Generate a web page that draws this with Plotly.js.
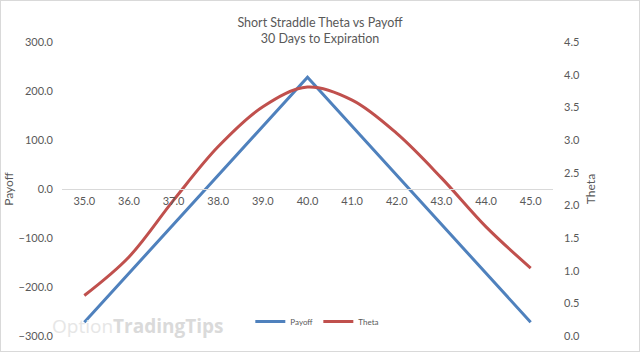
<!DOCTYPE html>
<html>
<head>
<meta charset="utf-8">
<script src="https://cdn.plot.ly/plotly-3.0.1.min.js"></script>
<style>
  html, body { margin: 0; padding: 0; background: #fff; }
  #chart { width: 640px; height: 352px; box-sizing: border-box; border: 1px solid #d9d9d9; }
</style>
</head>
<body>
<div id="chart"></div>
<script>
const strikes = [35, 36, 37, 38, 39, 40, 41, 42, 43, 44, 45];
const strikeLabels = ['35.0','36.0','37.0','38.0','39.0','40.0','41.0','42.0','43.0','44.0','45.0'];
const payoff = [-272, -172, -72, 28, 128, 228, 128, 28, -72, -172, -272];
const theta = [0.62, 1.21, 2.08, 2.90, 3.51, 3.81, 3.61, 3.10, 2.42, 1.67, 1.04];

const txt = '#595959';
const fontFam = 'Lato, "Open Sans", sans-serif';

const traces = [
  { x: strikes, y: payoff, name: 'Payoff', type: 'scatter', mode: 'lines',
    line: { color: '#4F81BD', width: 3 }, xaxis: 'x', yaxis: 'y' },
  { x: strikes, y: theta, name: 'Theta', type: 'scatter', mode: 'lines',
    line: { color: '#C0504D', width: 3, shape: 'spline', smoothing: 1 }, xaxis: 'x', yaxis: 'y2' }
];

const layout = {
  width: 638, height: 350,
  margin: { l: 61, r: 86, t: 41, b: 15 },
  paper_bgcolor: '#fff', plot_bgcolor: 'rgba(0,0,0,0)',
  font: { family: fontFam, color: txt, size: 11 },
  showlegend: true,
  legend: { orientation: 'h', x: 0.52, xanchor: 'center', y: 0.0, yanchor: 'bottom',
    font: { size: 8, color: txt }, bgcolor: 'rgba(0,0,0,0)', itemwidth: 30 },
  title: { text: 'Short Straddle Theta vs Payoff<br>30 Days to Expiration',
    x: 0.5, xref: 'container', xanchor: 'center', y: 1 - 26/350, yref: 'container', yanchor: 'middle',
    font: { family: fontFam, size: 12.5, color: txt } },
  xaxis: {
    range: [34.5, 45.5], tickvals: strikes, ticktext: strikeLabels,
    anchor: 'free', position: 147.5/294, side: 'bottom', automargin: false,
    showline: true, linecolor: '#d9d9d9', linewidth: 1, showgrid: false, zeroline: false,
    ticks: '', ticklabelstandoff: 2, tickfont: { size: 11, color: txt }, fixedrange: true
  },
  yaxis: {
    range: [-300, 300], tickvals: [-300,-200,-100,0,100,200,300], tickformat: '.1f',
    showgrid: false, zeroline: false, showline: false, ticks: '',
    ticklabelstandoff: 8, tickfont: { size: 11, color: txt },
    title: { text: 'Payoff', standoff: 4, font: { size: 12, color: txt } }, automargin: false
  },
  yaxis2: {
    overlaying: 'y', side: 'right', range: [0, 4.5], dtick: 0.5, tick0: 0, tickformat: '.1f',
    showgrid: false, zeroline: false, showline: false, ticks: '',
    ticklabelstandoff: 10, tickfont: { size: 11, color: txt },
    title: { text: 'Theta', standoff: 7, font: { size: 12, color: txt } }, automargin: false
  },
  annotations: [
    { xref: 'paper', yref: 'paper', x: -0.025, y: 0.035, xanchor: 'left', yanchor: 'middle', showarrow: false,
      text: '<span style="color:#e6e6e6">Option</span><span style="color:#dadada"><b>TradingTips</b></span>',
      font: { size: 19, family: '"Open Sans", sans-serif' } }
  ]
};

Plotly.newPlot('chart', traces, layout, { displayModeBar: false, staticPlot: true });
</script>
</body>
</html>
